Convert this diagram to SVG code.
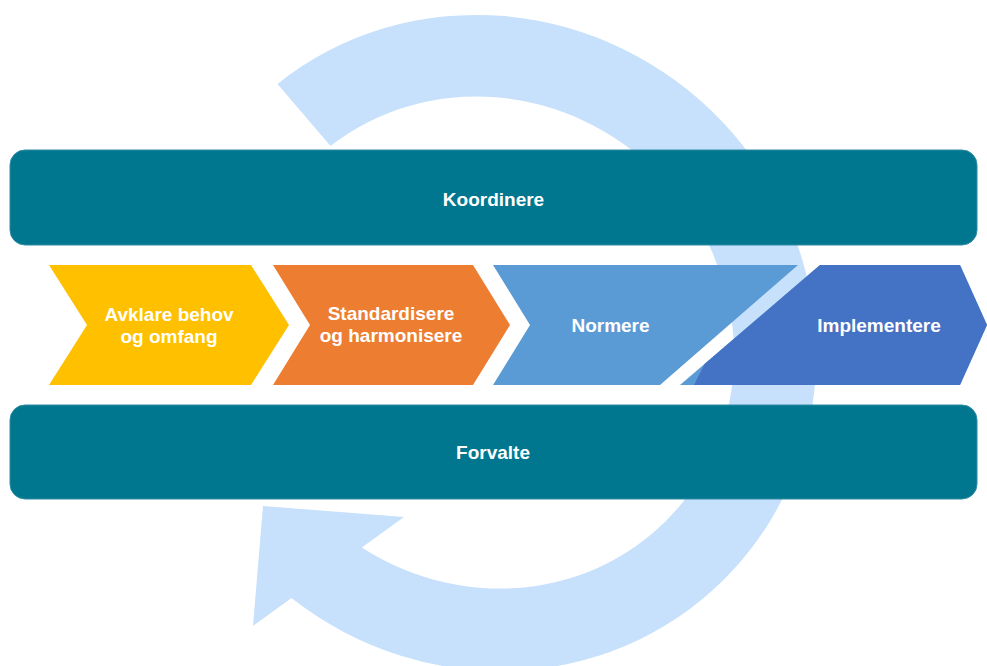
<svg xmlns="http://www.w3.org/2000/svg" width="987" height="666" viewBox="0 0 987 666">
  <style>
    .band { fill: #00778F; stroke: #2C8CA3; stroke-width: 1; }
    .lbl { font-family: "Liberation Sans", Arial, sans-serif; font-weight: bold; font-size: 19px; fill: #FFFFFF; text-anchor: middle; }
  </style>
  <rect width="987" height="666" fill="#FFFFFF"/>
  <g id="cycle-arrow">
    <path d="M 277.5 84 A 334 322 45 1 1 291.5 598.1 L 253 626 L 263 506 L 404 517 L 361.8 547.4 A 252 240 45 1 0 330.5 146 Z" fill="#C7E0FB"/>
  </g>
  <g id="koordinere">
    <rect class="band" x="10" y="150" width="967" height="95" rx="15" ry="15"/>
    <text class="lbl" x="493.5" y="206">Koordinere</text>
  </g>
  <g id="forvalte">
    <rect class="band" x="10" y="405" width="967" height="94" rx="15" ry="15"/>
    <text class="lbl" x="493" y="459">Forvalte</text>
  </g>
  <g id="avklare">
    <polygon points="49,265 251,265 289,325 251,385 49,385 87,325" fill="#FFC000"/>
    <text class="lbl" x="169" y="321">Avklare behov</text>
    <text class="lbl" x="169" y="343">og omfang</text>
  </g>
  <g id="standardisere">
    <polygon points="273,265 473,265 510,325 473,385 273,385 310,325" fill="#ED7D31"/>
    <text class="lbl" x="391" y="320">Standardisere</text>
    <text class="lbl" x="391" y="342">og harmonisere</text>
  </g>
  <g id="normere">
    <polygon points="493,265 798,265 660,385 493,385 530,325" fill="#5B9BD5"/>
    <text class="lbl" x="610.5" y="331.5">Normere</text>
  </g>
  <g id="implementere">
    <polygon points="820,265 960,265 987,325 960,385 680,385" fill="#5B9BD5"/>
    <polygon points="820,265 960,265 987,325 960,385 694,385 704.5,364" fill="#4472C4"/>
    <text class="lbl" x="879" y="331.5">Implementere</text>
  </g>
  <g id="connectors"></g>
</svg>
